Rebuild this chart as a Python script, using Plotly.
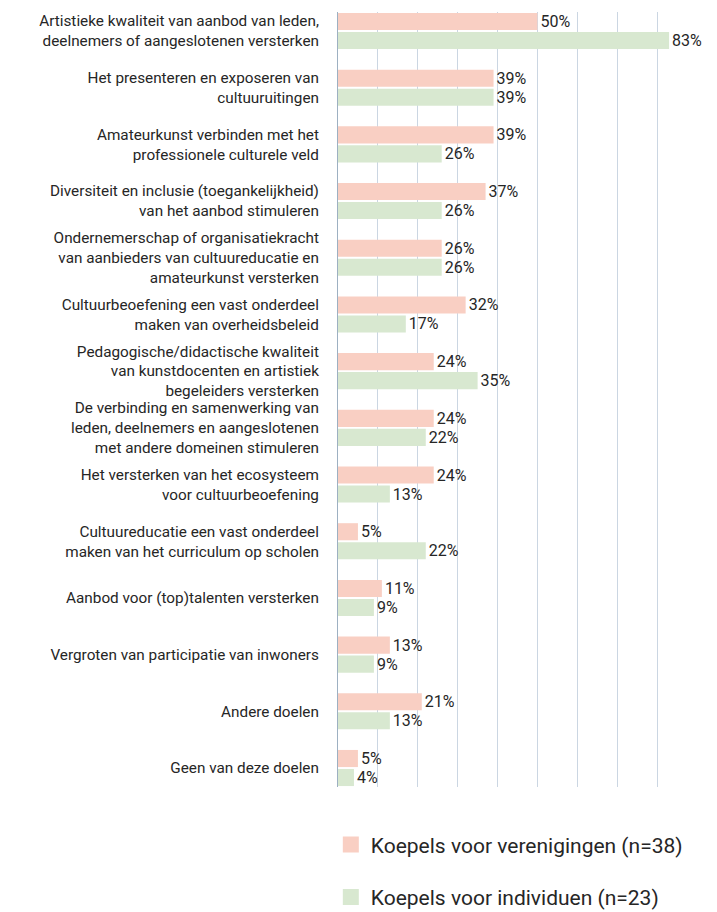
import plotly.graph_objects as go

categories = [
    "Artistieke kwaliteit van aanbod van leden,<br>deelnemers of aangeslotenen versterken",
    "Het presenteren en exposeren van<br>cultuuruitingen",
    "Amateurkunst verbinden met het<br>professionele culturele veld",
    "Diversiteit en inclusie (toegankelijkheid)<br>van het aanbod stimuleren",
    "Ondernemerschap of organisatiekracht<br>van aanbieders van cultuureducatie en<br>amateurkunst versterken",
    "Cultuurbeoefening een vast onderdeel<br>maken van overheidsbeleid",
    "Pedagogische/didactische kwaliteit<br>van kunstdocenten en artistiek<br>begeleiders versterken",
    "De verbinding en samenwerking van<br>leden, deelnemers en aangeslotenen<br>met andere domeinen stimuleren",
    "Het versterken van het ecosysteem<br>voor cultuurbeoefening",
    "Cultuureducatie een vast onderdeel<br>maken van het curriculum op scholen",
    "Aanbod voor (top)talenten versterken",
    "Vergroten van participatie van inwoners",
    "Andere doelen",
    "Geen van deze doelen",
]
verenigingen = [50, 39, 39, 37, 26, 32, 24, 24, 24, 5, 11, 13, 21, 5]
individuen = [83, 39, 26, 26, 26, 17, 35, 22, 13, 22, 9, 9, 13, 4]
series_names = ["Koepels voor verenigingen (n=38)", "Koepels voor individuen (n=23)"]
colors = ["#F9CFC3", "#D8E8D0"]

FONT = "Roboto"
TXT = "#262626"

fig = go.Figure()
for name, vals, col in zip(series_names, [verenigingen, individuen], colors):
    fig.add_trace(go.Bar(
        y=categories, x=vals, orientation="h", name=name,
        marker=dict(color=col, line=dict(width=0)),
        text=[f"{v}%" for v in vals], textposition="outside",
        textfont=dict(family=FONT, size=16, color=TXT),
        constraintext="none", cliponaxis=False,
        legendgroup=name, showlegend=False,
    ))
    # legend entry with a larger square swatch
    fig.add_trace(go.Scatter(
        x=[None], y=[None], mode="markers", name=name,
        marker=dict(symbol="square", size=19, color=col, line=dict(width=0)),
        legendgroup=name, showlegend=True, hoverinfo="skip",
    ))

n = len(categories)
fig.update_layout(
    width=717, height=912,
    margin=dict(l=337.5, r=19.5, t=12, b=125),
    barmode="group", bargap=0.33, bargroupgap=0.1,
    plot_bgcolor="white", paper_bgcolor="white",
    font=dict(family=FONT, size=15, color=TXT),
    showlegend=True,
    legend=dict(
        orientation="v", xref="paper", x=-0.02, xanchor="left",
        yref="container", y=0.096, yanchor="top",
        font=dict(family=FONT, size=21, color=TXT),
        tracegroupgap=22, itemsizing="trace",
    ),
    xaxis=dict(
        range=[0, 90], dtick=10, showticklabels=False,
        showgrid=True, gridcolor="#CBD6E2", gridwidth=1,
        zeroline=False, fixedrange=True,
    ),
    yaxis=dict(
        range=[n - 1 + 0.335, -0.335],
        showline=True, linecolor="#9DB0C2", linewidth=1,
        showgrid=False, ticks="", ticklabelstandoff=15,
        tickfont=dict(family=FONT, size=15.3, color=TXT),
    ),
)

fig.write_html("out.html")
